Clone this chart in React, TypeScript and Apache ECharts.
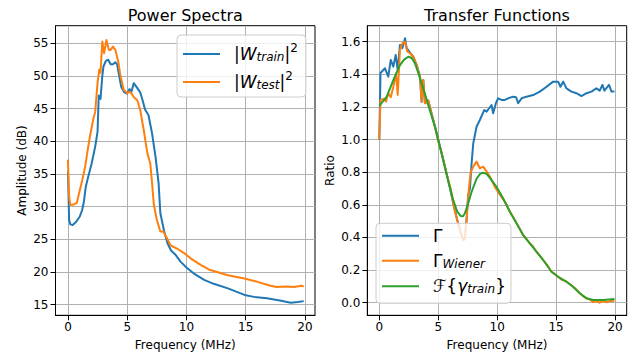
import React, { useEffect, useRef } from 'react';
import * as echarts from 'echarts';

// ---------- data: Power Spectra ----------
const freqTrain = [0, 0.1, 0.2, 0.4, 0.7, 1.0, 1.2, 1.35, 1.5, 1.7, 2.0, 2.3, 2.5, 2.6, 2.75, 2.9, 3.0, 3.2, 3.4, 3.6, 3.8, 4.0, 4.15, 4.3, 4.5, 4.75, 5.0, 5.2, 5.35, 5.55, 5.8, 6.1, 6.3, 6.5, 6.8, 7.1, 7.4, 7.65, 7.8, 8.1, 8.4, 8.7, 9.1, 9.5, 10.0, 10.6, 11.5, 12.3, 13.5, 14.9, 15.7, 16.8, 18.0, 18.8, 19.4, 19.9];
const powerTrain = [35.5, 28.0, 27.3, 27.2, 27.7, 28.5, 29.5, 30.8, 33.0, 34.5, 36.6, 39.2, 41.5, 47.0, 46.5, 50.0, 51.5, 52.3, 52.5, 51.8, 51.8, 52.1, 51.8, 50.3, 48.3, 47.5, 47.3, 48.0, 47.5, 48.9, 48.3, 47.5, 46.3, 44.9, 44.0, 41.2, 37.5, 33.6, 29.0, 26.4, 24.4, 23.3, 22.6, 21.6, 20.7, 19.8, 18.8, 18.2, 17.5, 16.5, 16.2, 16.0, 15.6, 15.3, 15.4, 15.55];

const freqTest = [0, 0.1, 0.2, 0.45, 0.75, 1.0, 1.2, 1.45, 1.65, 1.85, 2.15, 2.3, 2.5, 2.65, 2.75, 2.9, 3.05, 3.25, 3.45, 3.6, 3.8, 4.0, 4.25, 4.4, 4.7, 5.0, 5.25, 5.55, 5.85, 6.1, 6.4, 6.7, 6.95, 7.1, 7.25, 7.5, 7.8, 8.05, 8.35, 8.65, 9.2, 9.8, 10.35, 11.2, 12.0, 13.5, 14.9, 16.0, 17.1, 17.6, 18.5, 19.1, 19.7, 19.9];
const powerTest = [37.2, 31.5, 30.3, 30.3, 30.6, 32.5, 34.0, 36.1, 38.5, 40.7, 43.5, 44.5, 49.0, 51.0, 50.5, 55.3, 53.5, 55.5, 54.0, 54.0, 54.5, 54.0, 52.2, 50.4, 47.9, 47.4, 47.6, 46.8, 46.3, 44.8, 41.7, 38.2, 36.6, 33.6, 30.3, 28.0, 26.2, 26.2, 25.2, 24.1, 23.6, 22.9, 22.1, 21.1, 20.3, 19.5, 19.0, 18.5, 17.9, 17.7, 17.8, 17.7, 17.9, 17.8];

// ---------- data: Transfer Functions ----------
const freqGamma = [0, 0.1, 0.2, 0.48, 0.76, 0.97, 1.19, 1.39, 1.56, 1.75, 1.95, 2.18, 2.32, 2.54, 2.88, 3.17, 3.45, 3.59, 3.73, 3.87, 4.15, 4.72, 5.28, 5.85, 6.27, 6.61, 6.9, 7.12, 7.25, 7.4, 7.54, 7.69, 7.83, 7.97, 8.25, 8.53, 8.9, 9.1, 9.32, 9.52, 9.66, 9.89, 10.08, 10.37, 10.65, 10.93, 11.36, 11.6, 11.78, 12.07, 12.49, 13.05, 13.62, 14.19, 14.75, 15.17, 15.37, 15.6, 15.88, 16.3, 16.73, 17.15, 17.58, 18.0, 18.42, 18.7, 18.93, 19.1, 19.49, 19.7, 19.95];
const gamma = [1.0, 1.41, 1.416, 1.437, 1.386, 1.488, 1.447, 1.519, 1.427, 1.58, 1.56, 1.621, 1.56, 1.539, 1.508, 1.457, 1.386, 1.232, 1.365, 1.223, 1.24, 1.08, 0.92, 0.75, 0.61, 0.507, 0.43, 0.384, 0.39, 0.507, 0.66, 0.70, 0.855, 0.977, 1.079, 1.12, 1.181, 1.171, 1.192, 1.212, 1.161, 1.223, 1.253, 1.243, 1.243, 1.253, 1.263, 1.26, 1.223, 1.253, 1.263, 1.273, 1.294, 1.324, 1.355, 1.355, 1.324, 1.355, 1.314, 1.294, 1.284, 1.267, 1.284, 1.294, 1.314, 1.30, 1.335, 1.30, 1.335, 1.294, 1.294];

const freqWiener = [0, 0.1, 0.4, 0.57, 0.76, 0.97, 1.19, 1.42, 1.56, 1.75, 1.95, 2.18, 2.37, 2.6, 2.88, 3.17, 3.45, 3.59, 3.73, 3.87, 4.15, 4.45, 4.72, 5.0, 5.28, 5.55, 5.85, 6.05, 6.27, 6.45, 6.61, 6.9, 7.12, 7.25, 7.4, 7.6, 7.75, 7.97, 8.25, 8.53, 8.81, 9.05, 9.38, 9.8, 10.2, 10.5, 10.8, 11.08, 11.4, 11.64, 11.9, 12.2, 12.5, 12.77, 13.05, 13.33, 13.6, 13.9, 14.2, 14.61, 14.9, 15.17, 15.5, 15.88, 16.15, 16.44, 16.7, 17.01, 17.3, 17.58, 17.85, 18.14, 18.4, 18.7, 19.0, 19.3, 19.6, 19.95];
const wiener = [1.0, 1.243, 1.25, 1.233, 1.284, 1.26, 1.324, 1.406, 1.273, 1.549, 1.59, 1.60, 1.54, 1.529, 1.508, 1.457, 1.386, 1.232, 1.365, 1.223, 1.24, 1.15, 1.08, 0.99, 0.92, 0.84, 0.75, 0.70, 0.61, 0.55, 0.507, 0.43, 0.384, 0.39, 0.507, 0.70, 0.80, 0.834, 0.865, 0.824, 0.834, 0.81, 0.773, 0.71, 0.665, 0.635, 0.60, 0.558, 0.52, 0.487, 0.455, 0.415, 0.39, 0.364, 0.345, 0.313, 0.29, 0.262, 0.235, 0.19, 0.175, 0.159, 0.14, 0.129, 0.115, 0.098, 0.082, 0.058, 0.04, 0.027, 0.02, 0.005, 0.01, 0.0, 0.012, 0.003, 0.01, 0.012];

const freqFourier = [0, 0.63, 1.19, 1.75, 2.1, 2.46, 2.75, 3.03, 3.3, 3.59, 3.87, 4.15, 4.72, 5.28, 5.85, 6.27, 6.61, 6.9, 7.1, 7.26, 7.54, 7.83, 8.25, 8.55, 8.81, 9.1, 9.38, 9.94, 10.5, 11.08, 11.64, 12.2, 12.77, 13.33, 13.9, 14.61, 15.17, 15.88, 16.44, 17.01, 17.58, 18.14, 19.0, 19.95];
const fourier = [1.206, 1.263, 1.365, 1.457, 1.49, 1.508, 1.50, 1.467, 1.41, 1.345, 1.28, 1.212, 1.079, 0.916, 0.745, 0.63, 0.558, 0.532, 0.53, 0.548, 0.609, 0.68, 0.76, 0.79, 0.797, 0.79, 0.765, 0.711, 0.64, 0.558, 0.487, 0.415, 0.364, 0.313, 0.262, 0.19, 0.159, 0.129, 0.098, 0.058, 0.027, 0.017, 0.017, 0.023];

// ---------- ticks ----------
const freqTicks = [0, 5, 10, 15, 20];
const ampTicks = [15, 20, 25, 30, 35, 40, 45, 50, 55];
const ratioTicks = [0, 0.2, 0.4, 0.6, 0.8, 1.0, 1.2, 1.4, 1.6];

const FONT = 'DejaVu Sans';
const C_BLUE = '#1f77b4';
const C_ORANGE = '#ff7f0e';
const C_GREEN = '#2ca02c';

const pairs = (xs: number[], ys: number[]) => xs.map((x, i) => [x, ys[i]]);

const legendText: Record<string, string> = {
  W_train: '{f||}{w|W}{sub|train}{m||}{sup|2}',
  W_test: '{f||}{w|W}{sub|test}{m||}{sup|2}',
  Gamma: '{f|Γ}',
  Gamma_Wiener: '{f|Γ}{sub|Wiener}',
  F_train: '{f|ℱ}{m|{}{wi|γ}{sub|train}{m|\u007d}',
};

const makeRich = (lh: number) => ({
  f: { fontSize: 17, fontFamily: FONT, color: '#000', padding: [0, 0, 0, 9], lineHeight: lh },
  m: { fontSize: 17, fontFamily: FONT, color: '#000', lineHeight: lh },
  w: { fontSize: 17, fontFamily: FONT, fontStyle: 'italic', color: '#000', lineHeight: lh },
  wi: { fontSize: 17, fontFamily: FONT, fontStyle: 'italic', color: '#000', lineHeight: lh },
  sub: { fontSize: 12, fontFamily: FONT, fontStyle: 'italic', color: '#000', padding: [6, 0, 0, 0] },
  sup: { fontSize: 12, fontFamily: FONT, color: '#000', padding: [0, 0, 12, 0] },
});

function makeXAxis(gridIndex: number, min: number, max: number) {
  return {
    type: 'value',
    gridIndex,
    min,
    max,
    name: 'Frequency (MHz)',
    nameLocation: 'middle',
    nameGap: 24,
    nameTextStyle: { fontSize: 12, fontFamily: FONT, color: '#000' },
    axisLine: { show: true, onZero: false, lineStyle: { color: '#000', width: 1 } },
    axisTick: { show: true, length: 5, customValues: freqTicks, lineStyle: { color: '#000', width: 1 } },
    axisLabel: { customValues: freqTicks, fontSize: 12, fontFamily: FONT, color: '#000', margin: 6 },
    splitLine: { show: true, lineStyle: { color: '#b0b0b0', width: 1 } },
  };
}

function makeYAxis(gridIndex: number, min: number, max: number, ticks: number[], name: string, gap: number, fmt: (v: number) => string) {
  return {
    type: 'value',
    gridIndex,
    min,
    max,
    name,
    nameLocation: 'middle',
    nameGap: gap,
    nameTextStyle: { fontSize: 12, fontFamily: FONT, color: '#000' },
    axisLine: { show: true, onZero: false, lineStyle: { color: '#000', width: 1 } },
    axisTick: { show: true, length: 5, customValues: ticks, lineStyle: { color: '#000', width: 1 } },
    axisLabel: { customValues: ticks, fontSize: 12, fontFamily: FONT, color: '#000', margin: 7, formatter: fmt },
    splitLine: { show: true, lineStyle: { color: '#b0b0b0', width: 1 } },
  };
}

function lineSeries(name: string, xi: number, data: number[][], color: string) {
  return {
    type: 'line',
    name,
    xAxisIndex: xi,
    yAxisIndex: xi,
    data,
    symbol: 'none',
    showSymbol: false,
    lineStyle: { color, width: 2, join: 'round' },
    itemStyle: { color },
    emphasis: { disabled: true },
  };
}

export default function App() {
  const ref = useRef<HTMLDivElement>(null);
  useEffect(() => {
    if (!ref.current) return;
    const chart = echarts.init(ref.current, null, { renderer: 'svg' });
    const legendCommon = {
      orient: 'vertical',
      icon: 'rect',
      itemWidth: 37,
      itemHeight: 2,
      backgroundColor: 'rgba(255,255,255,0.8)',
      borderColor: '#cccccc',
      borderWidth: 1,
      borderRadius: 4,
      selectedMode: false,
      formatter: (n: string) => legendText[n] ?? n,
    };
    chart.setOption({
      animation: false,
      grid: [
        { left: 55.5, top: 25.7, width: 259.5, height: 289.6, show: true, borderColor: '#000', borderWidth: 1, backgroundColor: 'transparent' },
        { left: 367.3, top: 25.7, width: 259.4, height: 289.6, show: true, borderColor: '#000', borderWidth: 1, backgroundColor: 'transparent' },
      ],
      graphic: [
        { type: 'text', x: 185.25, y: 15.3, style: { text: 'Power Spectra', fontSize: 16, fontFamily: FONT, fill: '#000', textAlign: 'center', textVerticalAlign: 'middle' } },
        { type: 'text', x: 497, y: 15.3, style: { text: 'Transfer Functions', fontSize: 16, fontFamily: FONT, fill: '#000', textAlign: 'center', textVerticalAlign: 'middle' } },
      ],
      xAxis: [makeXAxis(0, -1.05, 20.85), makeXAxis(1, -1.02, 20.99)],
      yAxis: [
        makeYAxis(0, 13.38, 57.7, ampTicks, 'Amplitude (dB)', 28, (v) => String(v)),
        makeYAxis(1, -0.077, 1.698, ratioTicks, 'Ratio', 31.5, (v) => v.toFixed(1)),
      ],
      legend: [
        {
          ...legendCommon,
          left: 177,
          top: 35,
          padding: [7, 8, 6, 6],
          itemGap: 7,
          data: ['W_train', 'W_test'],
          textStyle: { fontSize: 17, fontFamily: FONT, color: '#000', rich: makeRich(26) },
        },
        {
          ...legendCommon,
          left: 376,
          top: 223.3,
          padding: [4, 5, 8, 6],
          itemGap: 8,
          data: ['Gamma', 'Gamma_Wiener', 'F_train'],
          textStyle: { fontSize: 17, fontFamily: FONT, color: '#000', rich: makeRich(22) },
        },
      ],
      series: [
        lineSeries('W_train', 0, pairs(freqTrain, powerTrain), C_BLUE),
        lineSeries('W_test', 0, pairs(freqTest, powerTest), C_ORANGE),
        lineSeries('Gamma', 1, pairs(freqGamma, gamma), C_BLUE),
        lineSeries('Gamma_Wiener', 1, pairs(freqWiener, wiener), C_ORANGE),
        lineSeries('F_train', 1, pairs(freqFourier, fourier), C_GREEN),
      ],
    });
    return () => chart.dispose();
  }, []);
  return <div ref={ref} style={{ width: 644, height: 358, position: 'absolute', left: 0, top: 0 }} />;
}
